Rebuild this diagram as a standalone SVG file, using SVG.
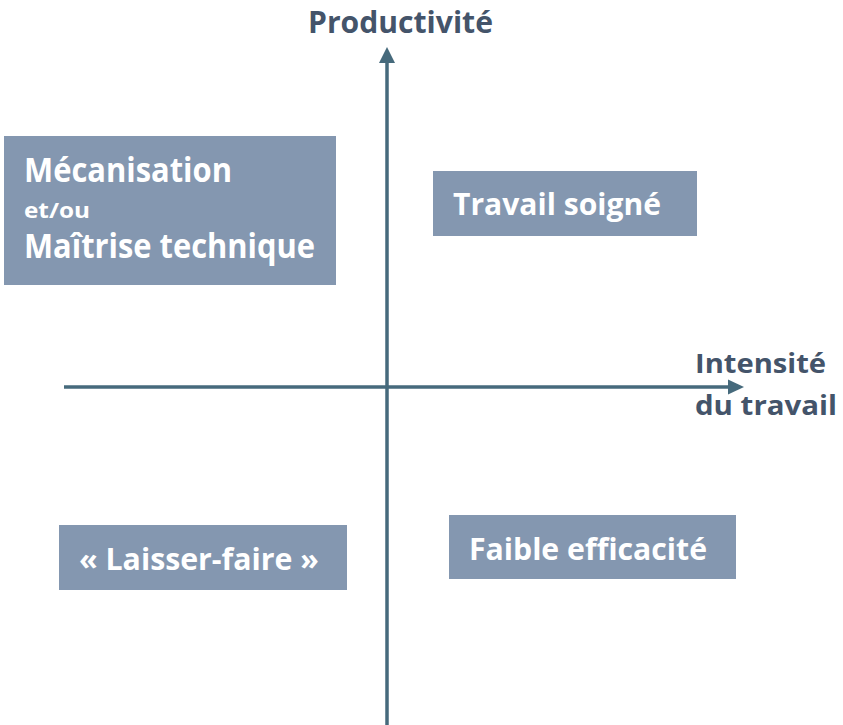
<svg xmlns="http://www.w3.org/2000/svg" width="843" height="725" viewBox="0 0 843 725">
<style>
.box{fill:#8497B0}
.bt{font-family:"Open Sans","Liberation Sans",sans-serif;font-weight:bold;fill:#FFFFFF}
.ax{font-family:"Open Sans","Liberation Sans",sans-serif;font-weight:bold;fill:#44546A}
.axis{stroke:#466A7C;stroke-width:3.5;fill:none}
</style>
<rect width="843" height="725" fill="#FFFFFF"/>
<g id="connectors">
<line class="axis" x1="387" y1="725" x2="387" y2="60"/>
<polygon points="387,47 379,63 395,63" fill="#466A7C"/>
<line class="axis" x1="64" y1="387" x2="730" y2="387"/>
<polygon points="744,387 728,379.5 728,394.5" fill="#466A7C"/>
</g>
<g id="label-productivite">
<text class="ax" x="308" y="33" font-size="29.5" textLength="185" lengthAdjust="spacingAndGlyphs">Productivité</text>
</g>
<g id="label-intensite">
<text class="ax" x="695" y="373" font-size="26" textLength="131" lengthAdjust="spacingAndGlyphs">Intensité</text>
<text class="ax" x="695" y="415" font-size="26" textLength="142" lengthAdjust="spacingAndGlyphs">du travail</text>
</g>
<g id="node-mecanisation">
<rect class="box" x="4" y="136" width="332" height="149"/>
<text class="bt" x="24" y="182" font-size="33.5" textLength="208" lengthAdjust="spacingAndGlyphs">Mécanisation</text>
<text class="bt" x="24" y="218" font-size="22" textLength="66" lengthAdjust="spacingAndGlyphs">et/ou</text>
<text class="bt" x="24" y="258" font-size="33.5" textLength="291" lengthAdjust="spacingAndGlyphs">Maîtrise technique</text>
</g>
<g id="node-travail-soigne">
<rect class="box" x="433" y="171" width="264" height="65"/>
<text class="bt" x="453" y="215" font-size="29.5" textLength="208" lengthAdjust="spacingAndGlyphs">Travail soigné</text>
</g>
<g id="node-laisser-faire">
<rect class="box" x="59" y="525" width="288" height="65"/>
<text class="bt" x="79" y="570" font-size="29.5" textLength="240" lengthAdjust="spacingAndGlyphs">« Laisser-faire »</text>
</g>
<g id="node-faible-efficacite">
<rect class="box" x="449" y="515" width="287" height="64"/>
<text class="bt" x="469" y="560" font-size="29.5" textLength="238" lengthAdjust="spacingAndGlyphs">Faible efficacité</text>
</g>
</svg>
